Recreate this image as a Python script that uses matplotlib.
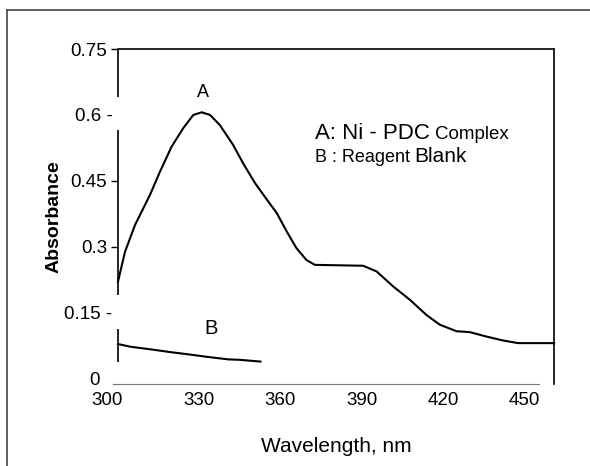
import matplotlib
matplotlib.use("Agg")
import matplotlib.pyplot as plt
import matplotlib.transforms as mtransforms
from matplotlib.lines import Line2D

# curve A: Ni-PDC complex
wavelength_a = [300, 302.6, 306.3, 311.8, 315.5, 319.8, 324.1, 327.8, 330.9,
                334, 337.6, 342.5, 346.2, 350.6, 354.2, 358.6, 362.3, 365.9,
                369.6, 372.7, 390.5, 395.5, 401.6, 407.7, 413.9, 418.8, 425,
                429.9, 436, 442.2, 447.7, 461]
absorbance_a = [0.221, 0.289, 0.35, 0.418, 0.471, 0.528, 0.57, 0.6, 0.606,
                0.6, 0.577, 0.532, 0.49, 0.445, 0.414, 0.377, 0.335, 0.297,
                0.27, 0.259, 0.257, 0.244, 0.21, 0.18, 0.145, 0.123, 0.108,
                0.106, 0.096, 0.087, 0.081, 0.081]

# curve B: reagent blank
wavelength_b = [300, 304.4, 313, 320, 325.3, 332.6, 340.7, 345, 352.6]
absorbance_b = [0.079, 0.073, 0.066, 0.06, 0.056, 0.05, 0.044, 0.043, 0.039]

x_ticks = [300, 330, 360, 390, 420, 450]
y_ticks = [0, 0.15, 0.3, 0.45, 0.6, 0.75]
y_tick_labels = ["0", "0.15 -", "0.3", "0.45", "0.6 -", "0.75"]
dash_ticks = [0, 1, 4]  # ticks drawn without a tick mark

plt.rcParams['font.family'] = ['Liberation Sans', 'DejaVu Sans']

fig = plt.figure(figsize=(5.9, 4.66), dpi=100)
ax = fig.add_axes([118 / 590, 1 - 384 / 466, 436 / 590, 335 / 466])

ax.plot(wavelength_a, absorbance_a, color="black", lw=1.5, clip_on=False,
        solid_joinstyle="round")
ax.plot(wavelength_b, absorbance_b, color="black", lw=1.5, clip_on=False,
        solid_joinstyle="round")

ax.set_xlim(300, 461)
ax.set_ylim(-0.012, 0.75)

ax.set_xticks(x_ticks)
ax.set_xticklabels([str(v) for v in x_ticks])
ax.tick_params(axis="x", length=0, pad=6, labelsize=13.5)
# first x label sits a little left of its tick in the original
first = ax.get_xticklabels()[0]
first.set_transform(first.get_transform() +
                    mtransforms.ScaledTranslation(-8 / 72, 0, fig.dpi_scale_trans))

ax.set_yticks(y_ticks)
ax.set_yticklabels(y_tick_labels)
ax.tick_params(axis="y", length=5, width=1, pad=3, labelsize=13.5)
for i, tick in enumerate(ax.yaxis.get_major_ticks()):
    if i in dash_ticks:
        tick.tick1line.set_visible(False)
        tick.set_pad(-1.0 if i != 0 else 8.5)

# axis lines: broken left spine, grey bottom line
ax.spines["left"].set_visible(False)
ax.spines["top"].set_linewidth(1.2)
ax.spines["right"].set_linewidth(1.2)
ax.spines["bottom"].set_color("#777777")
ax.spines["bottom"].set_bounds(298.2, 455.3)
for y0, y1 in [(0.641, 0.75), (0.191, 0.566), (0.039, 0.114)]:
    ax.vlines(300, y0, y1, color="black", lw=1.2, clip_on=False)

ax.set_xlabel("Wavelength, nm", fontsize=15, labelpad=20)
ax.set_ylabel("Absorbance", fontsize=14, fontweight="bold")
ax.yaxis.set_label_coords(-0.128, 0.5)

ax.text(331.4, 0.65, "A", fontsize=13, ha="center", va="center")
ax.text(334.5, 0.115, "B", fontsize=14.5, ha="center", va="center")

# legend lines, mixed font sizes on a shared baseline
legend_x = 372.7
legend_a_y = 0.545
legend_b_y = 0.493
t1 = ax.text(legend_x, legend_a_y, "A: Ni - PDC", fontsize=16, va="baseline")
ax.annotate("Complex", xy=(1, legend_a_y), xycoords=(t1, "data"), xytext=(4, 0),
            textcoords="offset points", fontsize=13.5, va="baseline")
t2 = ax.text(legend_x, legend_b_y, "B : Reagent", fontsize=13, va="baseline")
ax.annotate("Blank", xy=(1, legend_b_y), xycoords=(t2, "data"), xytext=(3, 0),
            textcoords="offset points", fontsize=15, va="baseline")

# outer frame of the picture
fig.add_artist(Line2D([7 / 590, 7 / 590], [0, 1 - 10 / 466], color="#444444", lw=1.2))
fig.add_artist(Line2D([7 / 590, 1], [1 - 10 / 466, 1 - 10 / 466], color="#444444", lw=1.2))

fig.savefig("out.png", dpi=100)
